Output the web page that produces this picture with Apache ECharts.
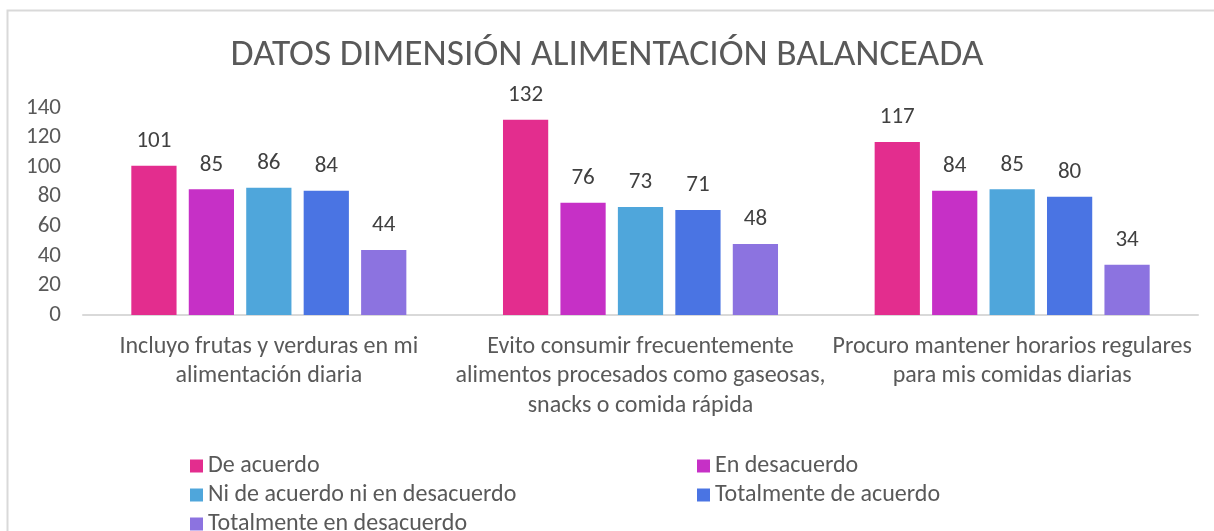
<!DOCTYPE html>
<html>
<head>
<meta charset="utf-8">
<script src="https://cdn.jsdelivr.net/npm/echarts@6/dist/echarts.min.js"></script>
<style>
    html, body { margin: 0; padding: 0; background: #fff; }
    #chart { width: 1214px; height: 531px; }
</style>
</head>
<body>
<div id="chart"></div>
<script>
// categorías (con saltos de línea como en el original)
const categories = [
    'Incluyo frutas y verduras en mi\nalimentación diaria',
    'Evito consumir frecuentemente\nalimentos procesados como gaseosas,\nsnacks o comida rápida',
    'Procuro mantener horarios regulares\npara mis comidas diarias'
]
const seriesNames = [
    'De acuerdo',
    'En desacuerdo',
    'Ni de acuerdo ni en desacuerdo',
    'Totalmente de acuerdo',
    'Totalmente en desacuerdo'
]
const deAcuerdo = [101, 132, 117]
const enDesacuerdo = [85, 76, 84]
const niDeAcuerdo = [86, 73, 85]
const totalDeAcuerdo = [84, 71, 80]
const totalEnDesacuerdo = [44, 48, 34]
const yTicks = [0, 20, 40, 60, 80, 100, 120, 140]

const colors = ['#E32D8E', '#C630C6', '#4FA6DB', '#4A74E3', '#8C73E0']
const values = [deAcuerdo, enDesacuerdo, niDeAcuerdo, totalDeAcuerdo, totalEnDesacuerdo]
const fontFamily = 'Carlito, Calibri, "Open Sans", "Noto Sans", sans-serif'
const textColor = '#595959'

const chart = echarts.init(document.getElementById('chart'))

const option = {
    animation: false,
    textStyle: { fontFamily: fontFamily },
    title: {
        text: 'DATOS DIMENSIÓN ALIMENTACIÓN BALANCEADA',
        left: 'center',
        top: 32,
        textStyle: {
            fontSize: 37.5,
            fontWeight: 'normal',
            color: textColor,
            fontFamily: fontFamily
        }
    },
    graphic: [
        {
            type: 'rect',
            shape: { x: 7.5, y: 10.5, width: 1230, height: 540 },
            style: { fill: 'none', stroke: '#D9D9D9', lineWidth: 2 },
            silent: true
        }
    ],
    // leyenda en dos columnas: ancho de texto fijo para alinear
    legend: {
        data: seriesNames,
        orient: 'horizontal',
        left: 185,
        top: 449,
        width: 1010,
        itemWidth: 13,
        itemHeight: 13,
        itemGap: 5,
        icon: 'rect',
        textStyle: {
            fontSize: 24,
            color: textColor,
            fontFamily: fontFamily,
            width: 484,
            lineHeight: 24
        }
    },
    grid: {
        left: 83,
        right: 16,
        top: 108,
        bottom: 216
    },
    xAxis: {
        type: 'category',
        data: categories,
        axisTick: { show: false },
        axisLine: { lineStyle: { color: '#D9D9D9', width: 2 } },
        axisLabel: {
            interval: 0,
            fontSize: 24,
            color: textColor,
            lineHeight: 29.5,
            margin: 17,
            fontFamily: fontFamily
        }
    },
    yAxis: {
        type: 'value',
        min: 0,
        max: 140,
        interval: 20,
        splitLine: { show: false },
        axisLine: { show: false },
        axisTick: { show: false },
        axisLabel: {
            fontSize: 23,
            color: textColor,
            margin: 22,
            fontFamily: fontFamily,
            formatter: v => (yTicks.includes(v) ? String(v) : '')
        }
    },
    series: seriesNames.map((name, i) => ({
        name: name,
        type: 'bar',
        data: values[i],
        barGap: '27%',
        barCategoryGap: '26%',
        itemStyle: { color: colors[i] },
        label: {
            show: true,
            position: 'top',
            distance: 13,
            fontSize: 23,
            color: '#404040',
            fontFamily: fontFamily
        }
    }))
}

chart.setOption(option)
</script>
</body>
</html>
